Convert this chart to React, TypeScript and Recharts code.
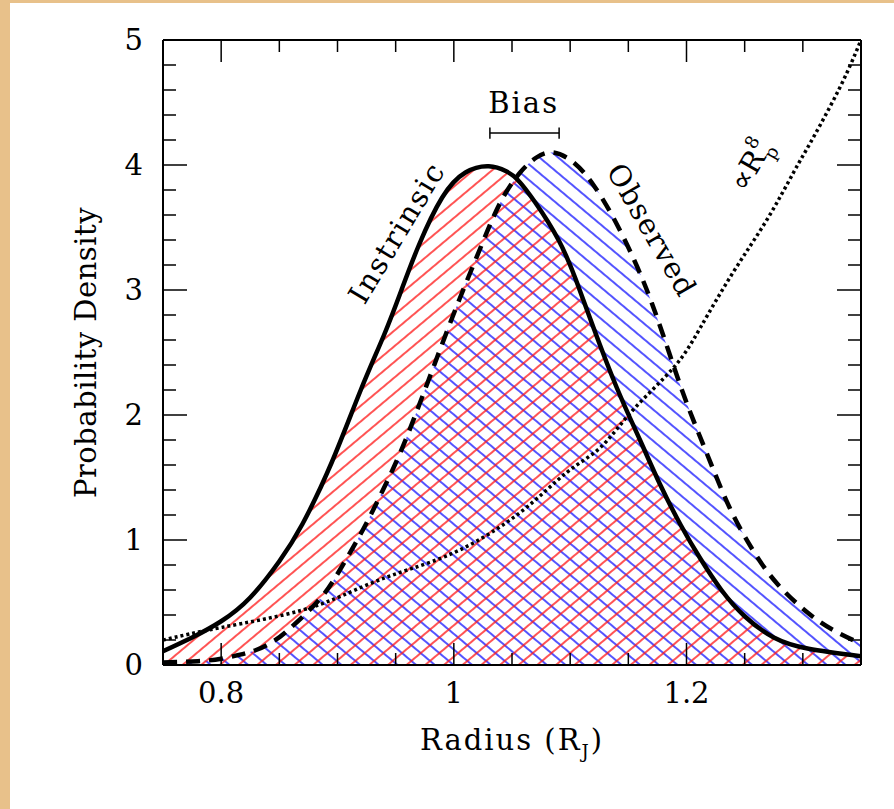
import React from "react";
import { ComposedChart, Area, Line, XAxis, YAxis, ReferenceLine, ReferenceDot } from "recharts";

// radius (R_J) and density
const intrinsicR = [0.75, 0.775, 0.8, 0.825, 0.85, 0.87, 0.895, 0.92, 0.94, 0.955, 0.97, 0.99, 1.01, 1.03, 1.045, 1.055, 1.07, 1.09, 1.105, 1.12, 1.14, 1.16, 1.177, 1.195, 1.212, 1.23, 1.25, 1.275, 1.305, 1.35];
const intrinsicP = [0.11, 0.22, 0.35, 0.54, 0.83, 1.13, 1.62, 2.2, 2.64, 3.0, 3.36, 3.74, 3.94, 3.99, 3.95, 3.88, 3.7, 3.4, 3.08, 2.7, 2.22, 1.8, 1.45, 1.12, 0.85, 0.6, 0.39, 0.22, 0.13, 0.07];

const observedR = [0.75, 0.78, 0.8, 0.815, 0.83, 0.845, 0.86, 0.885, 0.902, 0.92, 0.937, 0.954, 0.971, 0.988, 1.005, 1.023, 1.04, 1.057, 1.071, 1.085, 1.103, 1.12, 1.137, 1.155, 1.17, 1.185, 1.2, 1.218, 1.237, 1.257, 1.278, 1.304, 1.326, 1.35];
const observedP = [0.02, 0.03, 0.05, 0.08, 0.12, 0.19, 0.3, 0.53, 0.76, 1.05, 1.36, 1.7, 2.1, 2.52, 2.93, 3.34, 3.7, 3.94, 4.06, 4.1, 4.02, 3.84, 3.58, 3.24, 2.9, 2.5, 2.1, 1.68, 1.26, 0.92, 0.65, 0.42, 0.28, 0.17];

const biasR = [0.75, 0.8, 0.87, 0.92, 0.96, 1.005, 1.057, 1.097, 1.126, 1.154, 1.189, 1.212, 1.24, 1.269, 1.292, 1.306, 1.323, 1.338, 1.35];
const biasP = [0.2, 0.3, 0.44, 0.62, 0.76, 0.92, 1.22, 1.54, 1.74, 2.04, 2.38, 2.7, 3.14, 3.56, 3.94, 4.17, 4.46, 4.74, 5.0];

const xTicks = [0.8, 0.85, 0.9, 0.95, 1, 1.05, 1.1, 1.15, 1.2, 1.25, 1.3];
const xMajor = [0.8, 1, 1.2];
const yTicks = [0, 0.2, 0.4, 0.6, 0.8, 1, 1.2, 1.4, 1.6, 1.8, 2, 2.2, 2.4, 2.6, 2.8, 3, 3.2, 3.4, 3.6, 3.8, 4, 4.2, 4.4, 4.6, 4.8, 5];
const yMajor = [0, 1, 2, 3, 4, 5];

const intrinsic = intrinsicR.map((x, i) => ({ x, y: intrinsicP[i] }));
const observed = observedR.map((x, i) => ({ x, y: observedP[i] }));
const selection = biasR.map((x, i) => ({ x, y: biasP[i] }));

const FONT = "'DejaVu Serif', serif";

function BottomTick({ x, y, payload }: any) {
  const major = xMajor.includes(payload.value);
  return (
    <g>
      <line x1={x} x2={x} y1={y} y2={y - (major ? 22 : 12)} stroke="#000" strokeWidth={1.5} />
      {major && (
        <text x={x} y={y + 38} textAnchor="middle" fontFamily={FONT} fontSize={29} fill="#000">
          {payload.value === 1 ? "1" : String(payload.value)}
        </text>
      )}
    </g>
  );
}

function TopTick({ x, y, payload }: any) {
  const major = xMajor.includes(payload.value);
  return <line x1={x} x2={x} y1={y} y2={y + (major ? 22 : 12)} stroke="#000" strokeWidth={1.5} />;
}

function LeftTick({ x, y, payload }: any) {
  const major = yMajor.includes(payload.value);
  return (
    <g>
      <line x1={x} x2={x + (major ? 24 : 13)} y1={y} y2={y} stroke="#000" strokeWidth={1.5} />
      {major && (
        <text x={x - 20} y={y} textAnchor="end" dominantBaseline="central" fontFamily={FONT} fontSize={29} fill="#000">
          {String(payload.value)}
        </text>
      )}
    </g>
  );
}

function RightTick({ x, y, payload }: any) {
  const major = yMajor.includes(payload.value);
  return <line x1={x} x2={x - (major ? 24 : 13)} y1={y} y2={y} stroke="#000" strokeWidth={1.5} />;
}

function XTitle({ viewBox }: any) {
  return (
    <text x={viewBox.x + viewBox.width / 2} y={viewBox.y + 85} textAnchor="middle" fontFamily={FONT} fontSize={29} letterSpacing={2} fill="#000">
      Radius (R<tspan fontSize={18} dy={8}>J</tspan><tspan dy={-8}>)</tspan>
    </text>
  );
}

function YTitle({ viewBox }: any) {
  const cx = viewBox.x + 76;
  const cy = viewBox.y + viewBox.height / 2;
  return (
    <text x={cx} y={cy} transform={`rotate(-90 ${cx} ${cy})`} textAnchor="middle" dominantBaseline="central" fontFamily={FONT} fontSize={29} letterSpacing={0.5} fill="#000">
      Probability Density
    </text>
  );
}

function note(text: string, angle: number, spacing = 2) {
  return ({ cx, cy }: any) => (
    <text x={cx} y={cy} transform={`rotate(${angle} ${cx} ${cy})`} textAnchor="middle" dominantBaseline="central" fontFamily={FONT} fontSize={29} letterSpacing={spacing} fill="#000">
      {text}
    </text>
  );
}

function PropTo({ cx, cy }: any) {
  return (
    <text x={cx} y={cy} transform={`rotate(-60 ${cx} ${cy})`} textAnchor="middle" dominantBaseline="central" fontFamily={FONT} fontSize={29} fill="#000">
      ∝R<tspan fontSize={18} dy={-11}>8</tspan><tspan fontSize={18} dx={-11} dy={22}>p</tspan>
    </text>
  );
}

export default function App() {
  return (
    <div style={{ width: 894, height: 809, background: "#e8c18a", position: "relative" }}>
      <style>{"body{margin:0}"}</style>
      <div style={{ position: "absolute", left: 10, top: 3, width: 884, height: 806, background: "#fff" }}>
        <ComposedChart width={884} height={806} margin={{ top: 0, right: 0, bottom: 0, left: 0 }}>
          <defs>
            <pattern id="redHatch" patternUnits="userSpaceOnUse" width="12" height="12" patternTransform="rotate(-40)">
              <line x1="0" y1="6" x2="12" y2="6" stroke="#ff1a1a" strokeWidth="1.5" />
            </pattern>
            <pattern id="blueHatch" patternUnits="userSpaceOnUse" width="12" height="12" patternTransform="rotate(40)">
              <line x1="0" y1="6" x2="12" y2="6" stroke="#1a1aff" strokeWidth="1.5" />
            </pattern>
          </defs>

          <XAxis
            type="number"
            dataKey="x"
            domain={[0.75, 1.35]}
            allowDataOverflow
            ticks={xTicks}
            interval={0}
            height={144}
            tickSize={0}
            tickMargin={0}
            tickLine={false}
            axisLine={{ stroke: "#000", strokeWidth: 2 }}
            tick={BottomTick}
            label={XTitle}
          />
          <XAxis
            xAxisId="top"
            orientation="top"
            type="number"
            dataKey="x"
            domain={[0.75, 1.35]}
            allowDataOverflow
            ticks={xTicks}
            interval={0}
            height={37}
            tickSize={0}
            tickMargin={0}
            tickLine={false}
            axisLine={{ stroke: "#000", strokeWidth: 2 }}
            tick={TopTick}
          />
          <YAxis
            type="number"
            domain={[0, 5]}
            allowDataOverflow
            ticks={yTicks}
            interval={0}
            width={153}
            tickSize={0}
            tickMargin={0}
            tickLine={false}
            axisLine={{ stroke: "#000", strokeWidth: 2 }}
            tick={LeftTick}
            label={YTitle}
          />
          <YAxis
            yAxisId="right"
            orientation="right"
            type="number"
            domain={[0, 5]}
            allowDataOverflow
            ticks={yTicks}
            interval={0}
            width={33}
            tickSize={0}
            tickMargin={0}
            tickLine={false}
            axisLine={{ stroke: "#000", strokeWidth: 2 }}
            tick={RightTick}
          />

          <Area
            data={observed}
            type="natural"
            dataKey="y"
            stroke="none"
            fill="url(#blueHatch)"
            fillOpacity={1}
            dot={false}
            activeDot={false}
            isAnimationActive={false}
          />
          <Area
            data={intrinsic}
            type="natural"
            dataKey="y"
            stroke="none"
            fill="url(#redHatch)"
            fillOpacity={1}
            dot={false}
            activeDot={false}
            isAnimationActive={false}
          />
          <Line
            data={selection}
            type="natural"
            dataKey="y"
            stroke="#000"
            strokeWidth={3.5}
            strokeDasharray="3 3"
            dot={false}
            activeDot={false}
            isAnimationActive={false}
          />
          <Line
            data={observed}
            type="natural"
            dataKey="y"
            stroke="#000"
            strokeWidth={4.5}
            strokeDasharray="14 9"
            dot={false}
            activeDot={false}
            isAnimationActive={false}
          />
          <Line
            data={intrinsic}
            type="natural"
            dataKey="y"
            stroke="#000"
            strokeWidth={4.5}
            dot={false}
            activeDot={false}
            isAnimationActive={false}
          />

          {/* bias bar */}
          <ReferenceLine segment={[{ x: 1.031, y: 4.256 }, { x: 1.0905, y: 4.256 }]} stroke="#000" strokeWidth={1.5} />
          <ReferenceLine segment={[{ x: 1.031, y: 4.21 }, { x: 1.031, y: 4.3 }]} stroke="#000" strokeWidth={1.5} />
          <ReferenceLine segment={[{ x: 1.0905, y: 4.21 }, { x: 1.0905, y: 4.3 }]} stroke="#000" strokeWidth={1.5} />
          <ReferenceDot x={1.06} y={4.496} r={0} shape={note("Bias", 0)} />
          <ReferenceDot x={0.951} y={3.46} r={0} shape={note("Instrinsic", -59)} />
          <ReferenceDot x={1.17} y={3.48} r={0} shape={note("Observed", 60, 1)} />
          <ReferenceDot x={1.255} y={4.0} r={0} shape={PropTo} />
        </ComposedChart>
      </div>
    </div>
  );
}
